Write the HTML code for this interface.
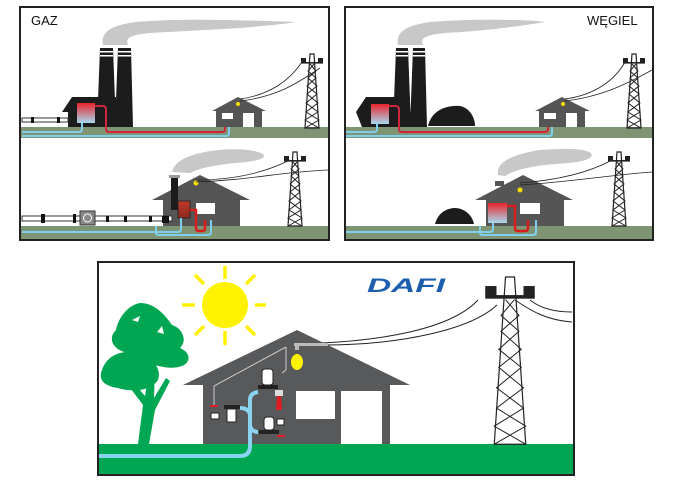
<!DOCTYPE html>
<html><head><meta charset="utf-8"><style>
html,body{margin:0;padding:0;background:#fff}
svg{display:block}
text{font-family:"Liberation Sans",sans-serif}
</style></head><body>
<svg width="674" height="482" viewBox="0 0 674 482" xmlns="http://www.w3.org/2000/svg">
<defs>
<linearGradient id="boil" x1="0" y1="0" x2="0" y2="1"><stop offset="0" stop-color="#e8242c"/><stop offset="1" stop-color="#a8d8ee"/></linearGradient>
<linearGradient id="boil2" x1="0" y1="0" x2="0" y2="1"><stop offset="0" stop-color="#c0392b"/><stop offset="1" stop-color="#8a2a1e"/></linearGradient>
<g id="tower">
<path d="M-2,0 L2,0 L7,74 L-7,74 Z" fill="none" stroke="#222" stroke-width="1.2" vector-effect="non-scaling-stroke"/>
<path d="M-2,10 L4,17 L-4,24 L5,32 L-5,40 L6,49 L-6,58 L7,66 L-7,74 M2,10 L-4,17 L4,24 L-5,32 L5,40 L-6,49 L6,58 L-7,66 L7,74" fill="none" stroke="#222" stroke-width="1" vector-effect="non-scaling-stroke"/>
<rect x="-11" y="8" width="22" height="1.6" fill="#222"/>
<rect x="-11" y="4" width="5" height="4.5" fill="#222"/><rect x="6" y="4" width="5" height="4.5" fill="#222"/>
</g>
</defs>

<!-- ============ GAZ panel ============ -->
<rect x="20" y="7" width="309" height="233" fill="#fff" stroke="#222" stroke-width="2"/>
<text x="31" y="25" font-size="13" fill="#111">GAZ</text>
<rect x="21" y="127" width="307" height="11" fill="#7f9472"/>
<path d="M103,45 C100,30 115,25 135,22 C180,18 240,20 296,22 C260,28 200,30 150,33 C130,35 125,38 128,45 Z" fill="#c8c8c8"/>
<path d="M100,48 L113,48 L116,127 L97,127 Z" fill="#1c1c1c"/>
<path d="M118,48 L131,48 L133,127 L115,127 Z" fill="#1c1c1c"/>
<g fill="#fff"><rect x="100" y="51" width="13" height="1.5"/><rect x="100" y="55" width="13" height="1.5"/><rect x="118" y="51" width="13" height="1.5"/><rect x="118" y="55" width="13" height="1.5"/></g>
<path d="M62,112 L72,97 L116,97 L116,127 L68,127 L68,112 Z" fill="#1c1c1c"/>
<rect x="22" y="118" width="46" height="4" fill="#fff" stroke="#333" stroke-width="1"/>
<rect x="31" y="117" width="3" height="6" fill="#111"/><rect x="57" y="117" width="3" height="6" fill="#111"/>
<rect x="77" y="103" width="18" height="20" fill="url(#boil)"/>
<path d="M95,106 L103,106 Q106,106 106,110 L106,129 Q106,132 109,132 L222,132 Q225,132 225,129 L225,127" fill="none" stroke="#d0263d" stroke-width="2"/>
<path d="M82,123 L82,129 Q82,132 79,132 L22,132" fill="none" stroke="#7fd0ef" stroke-width="2"/>
<path d="M22,136 L226,136 Q229,136 229,133 L229,127" fill="none" stroke="#7fd0ef" stroke-width="2"/>
<path d="M212,111 L238,97 L266,111 Z" fill="#555"/>
<rect x="216" y="110" width="46" height="17" fill="#555"/>
<rect x="222" y="113" width="11" height="6" fill="#fff"/><rect x="243" y="113" width="11" height="14" fill="#fff"/>
<circle cx="238" cy="104" r="2" fill="#f5e000"/>
<path d="M240,99 C270,95 290,80 302,62 M240,101 C275,97 295,85 320,68" fill="none" stroke="#222" stroke-width="0.8"/>
<g transform="translate(312,54)"><use href="#tower"/></g>
<rect x="21" y="226" width="307" height="13" fill="#7f9472"/>
<path d="M172,172 C175,160 190,155 205,152 C225,148 255,148 264,155 C265,160 250,162 235,163 C215,165 200,168 190,173 Z" fill="#c8c8c8"/>
<path d="M152,200 L200,175 L250,200 Z" fill="#555"/>
<rect x="163" y="199" width="77" height="27" fill="#555"/>
<rect x="196" y="203" width="19" height="11" fill="#fff"/>
<rect x="171" y="178" width="7" height="32" fill="#1c1c1c"/>
<rect x="169" y="175" width="11" height="3" fill="#999"/>
<rect x="178" y="201" width="12" height="17" fill="url(#boil2)" stroke="#222" stroke-width="0.8"/>
<circle cx="196" cy="183" r="2.5" fill="#f5e000"/>
<path d="M196,180 C240,180 270,170 290,160 M196,182 C250,180 280,172 328,170" fill="none" stroke="#222" stroke-width="0.8"/>
<rect x="22" y="216" width="150" height="5" fill="#fff" stroke="#333" stroke-width="1"/>
<rect x="80" y="211" width="15" height="14" fill="#888" stroke="#333"/><circle cx="87.5" cy="218" r="4" fill="none" stroke="#fff"/>
<g fill="#111"><rect x="41" y="214" width="4" height="9"/><rect x="73" y="214" width="3" height="9"/><rect x="106" y="216" width="3" height="6"/><rect x="124" y="216" width="3" height="6"/><rect x="149" y="216" width="3" height="6"/><rect x="162" y="216" width="7" height="7"/></g>
<path d="M181,218 L181,229 Q181,232 178,232 L22,232" fill="none" stroke="#7fd0ef" stroke-width="2"/>
<path d="M156,226 L156,233 Q156,235 159,235 L208,235 Q211,235 211,232 L211,220" fill="none" stroke="#7fd0ef" stroke-width="2"/>
<path d="M190,210 L196,210 L196,228 Q196,231 199,231 L202,231 Q205,231 205,228 L205,220" fill="none" stroke="#d81e1e" stroke-width="2.5"/>
<g transform="translate(295,152)"><use href="#tower"/></g>

<!-- ============ WĘGIEL panel ============ -->
<rect x="345" y="7" width="308" height="233" fill="#fff" stroke="#222" stroke-width="2"/>
<text x="587" y="25" font-size="13" fill="#111">WĘGIEL</text>
<rect x="346" y="127" width="306" height="11" fill="#7f9472"/>
<path d="M398,45 C395,30 410,25 430,22 C475,18 535,20 545,22 C510,28 470,32 445,33 C425,35 420,38 423,45 Z" fill="#c8c8c8"/>
<path d="M396,48 L408,48 L411,127 L393,127 Z" fill="#1c1c1c"/>
<path d="M413,48 L425,48 L427,127 L410,127 Z" fill="#1c1c1c"/>
<g fill="#fff"><rect x="396" y="51" width="12" height="1.5"/><rect x="396" y="55" width="12" height="1.5"/><rect x="413" y="51" width="12" height="1.5"/><rect x="413" y="55" width="12" height="1.5"/></g>
<path d="M356,112 L366,97 L410,97 L410,127 L362,127 Z" fill="#1c1c1c"/>
<path d="M428,126 C432,108 450,105 460,106 C470,108 475,118 475,126 Z" fill="#1c1c1c"/>
<rect x="371" y="104" width="18" height="20" fill="url(#boil)"/>
<path d="M389,106 L396,106 Q399,106 399,110 L399,129 Q399,132 402,132 L545,132 Q548,132 548,129 L548,127" fill="none" stroke="#d0263d" stroke-width="2"/>
<path d="M377,124 L377,129 Q377,132 374,132 L346,132" fill="none" stroke="#7fd0ef" stroke-width="2"/>
<path d="M346,136 L549,136 Q552,136 552,133 L552,127" fill="none" stroke="#7fd0ef" stroke-width="2"/>
<path d="M535,111 L562,97 L590,111 Z" fill="#555"/>
<rect x="539" y="110" width="46" height="17" fill="#555"/>
<rect x="544" y="113" width="12" height="6" fill="#fff"/><rect x="566" y="113" width="11" height="14" fill="#fff"/>
<circle cx="563" cy="104" r="2" fill="#f5e000"/>
<path d="M565,99 C595,95 615,80 625,62 M565,101 C600,97 625,85 652,70" fill="none" stroke="#222" stroke-width="0.8"/>
<g transform="translate(634,54)"><use href="#tower"/></g>
<rect x="346" y="226" width="306" height="13" fill="#7f9472"/>
<path d="M498,175 C495,160 520,153 540,150 C565,148 590,148 592,155 C590,162 570,163 555,164 C530,166 515,170 505,176 Z" fill="#c8c8c8"/>
<rect x="495" y="181" width="9" height="5" fill="#555"/>
<path d="M475,200 L523,175 L573,200 Z" fill="#555"/>
<rect x="486" y="199" width="78" height="27" fill="#555"/>
<rect x="520" y="203" width="20" height="11" fill="#fff"/>
<rect x="488" y="203" width="19" height="20" fill="url(#boil)"/>
<circle cx="520" cy="190" r="2.5" fill="#f5e000"/>
<path d="M520,183 C560,180 590,172 612,160 M520,185 C570,182 610,175 652,172" fill="none" stroke="#222" stroke-width="0.8"/>
<path d="M435,224 C438,212 448,208 455,208 C463,208 472,214 474,224 Z" fill="#1c1c1c"/>
<path d="M493,223 L493,229 Q493,232 490,232 L346,232" fill="none" stroke="#7fd0ef" stroke-width="2"/>
<path d="M480,226 L480,233 Q480,235 483,235 L533,235 Q536,235 536,232 L536,220" fill="none" stroke="#7fd0ef" stroke-width="2"/>
<path d="M507,206 L515,206 L515,228 Q515,231 518,231 L525,231 Q528,231 528,228 L528,220" fill="none" stroke="#d81e1e" stroke-width="2.5"/>
<g transform="translate(619,152)"><use href="#tower"/></g>

<!-- ============ DAFI panel ============ -->
<rect x="98" y="262" width="476" height="213" fill="#fff" stroke="#222" stroke-width="2"/>
<rect x="99" y="444" width="474" height="30" fill="#00a651"/>
<circle cx="225" cy="305" r="23" fill="#fff200"/>
<g stroke="#fff200" stroke-width="3.5">
<line x1="225" y1="266" x2="225" y2="279"/><line x1="225" y1="331" x2="225" y2="345"/>
<line x1="182" y1="305" x2="195" y2="305"/><line x1="255" y1="305" x2="266" y2="305"/>
<line x1="195" y1="275" x2="204" y2="284"/><line x1="246" y1="326" x2="255" y2="335"/>
<line x1="255" y1="275" x2="246" y2="284"/><line x1="195" y1="335" x2="204" y2="326"/>
</g>
<text x="367" y="292" font-size="19" font-weight="bold" font-style="italic" fill="#1d5fae" textLength="78" lengthAdjust="spacingAndGlyphs">DAFI</text>
<!-- tree -->
<g fill="#00a651">
<path d="M138,444 L143,405 L128,385 L133,382 L145,396 L150,365 L155,365 L154,398 L166,378 L170,381 L155,410 L149,444 Z"/>
<path d="M140,303 C155,303 165,315 172,325 C182,328 188,340 180,348 C190,352 192,362 182,366 C170,370 160,366 150,364 C140,366 128,362 124,352 C112,348 108,338 116,330 C118,318 128,305 140,303 Z"/>
<path d="M102,370 C108,352 128,348 142,356 C152,358 162,368 158,380 C150,392 130,392 118,388 C104,386 98,380 102,370 Z"/>
</g>
<g fill="#fff"><path d="M132,320 L140,316 L138,322 Z"/><path d="M157,332 L162,326 L164,334 Z"/></g>
<!-- house -->
<path d="M183,385 L297,330 L410,385 Z" fill="#58595b"/>
<rect x="203" y="384" width="187" height="60" fill="#58595b"/>
<rect x="296" y="391" width="39" height="28" fill="#fff"/>
<rect x="341" y="391" width="41" height="53" fill="#fff"/>
<path d="M322,343 C380,340 450,330 478,300 M322,345 C400,345 470,330 497,305 M515,300 C530,310 545,320 572,322 M530,300 C540,308 555,312 572,312" fill="none" stroke="#222" stroke-width="1"/>
<rect x="294" y="343" width="34" height="3" fill="#bbb"/>
<rect x="295" y="346" width="4" height="4" fill="#bbb"/>
<ellipse cx="297" cy="362" rx="6" ry="8" fill="#fff200"/>
<path d="M286,347 L286,370 L282,373 M286,347 L214,386 L214,405" fill="none" stroke="#ccc" stroke-width="1"/>
<g>
<rect x="262" y="369" width="11" height="16" rx="3" fill="#fff" stroke="#222"/>
<rect x="258" y="385" width="20" height="4" fill="#222"/>
<rect x="275" y="390" width="8" height="6" fill="#ddd"/>
<path d="M277,396 L276,410 L282,410 L281,396Z" fill="#e01b24"/>
<rect x="224" y="405" width="16" height="4" fill="#222"/>
<rect x="227" y="409" width="9" height="13" fill="#fff" stroke="#222"/>
<rect x="211" y="413" width="8" height="6" fill="#fff" stroke="#222"/>
<rect x="264" y="417" width="10" height="13" rx="3" fill="#fff" stroke="#222"/>
<rect x="259" y="430" width="20" height="4" fill="#222"/>
<rect x="277" y="419" width="7" height="6" fill="#fff" stroke="#222"/>
<rect x="210" y="405" width="8" height="2" fill="#e01b24"/>
<rect x="277" y="435" width="8" height="2" fill="#e01b24"/>
</g>
<path d="M99,456 L240,456 Q250,456 250,446 L250,400 Q250,393 258,392" fill="none" stroke="#8ad4f2" stroke-width="4"/>
<path d="M240,408 Q248,408 250,414 M250,426 Q252,432 258,432" fill="none" stroke="#8ad4f2" stroke-width="4"/>
<g transform="translate(510,277) scale(2.25,2.26)"><use href="#tower"/></g>
</svg>
</body></html>
